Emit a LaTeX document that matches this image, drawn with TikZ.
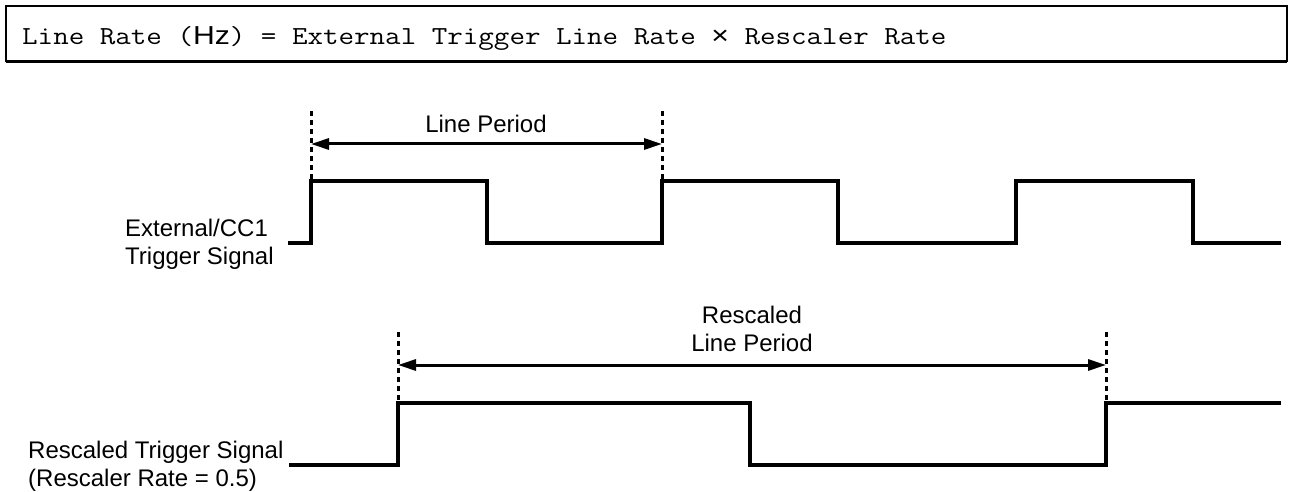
\documentclass[tikz,border=0pt]{standalone}
\usepackage{fontspec}
\usepackage{graphicx}
\setmainfont{Liberation Sans}
\usetikzlibrary{arrows.meta,positioning}

\begin{document}
\begin{tikzpicture}[x=1pt,y=-1pt,>={Triangle[length=18pt,width=11pt]},
  sig/.style={line width=3.2pt},
  guide/.style={line width=3pt,dash pattern=on 5pt off 4pt},
  period/.style={<->,line width=3pt},
  lbl/.style={font=\fontsize{24}{28}\selectfont,inner sep=0pt}]
  \useasboundingbox (0,0) rectangle (1290,492);
  \node[draw,line width=2.5pt,outer sep=0pt,anchor=north west,
        minimum width=1281pt,minimum height=55pt] (box) at (6,6) {};
  \draw[line width=1.5pt] ([yshift=-1.5pt]box.south west) -- ([yshift=-1.5pt]box.south east);
  \node[anchor=base west,inner sep=0pt,font=\ttfamily\fontsize{26}{30}\selectfont] (rate) at (22,45)
       {\scalebox{1.16}[1]{Line Rate ({\rmfamily Hz}) = External Trigger Line Rate {\rmfamily ×} Rescaler Rate}};
  \node[lbl,anchor=base west,align=left] (ext) at (125,264) {External/CC1\\Trigger Signal};
  \node[lbl,anchor=base west,align=left] (resc) at (28,486) {Rescaled Trigger Signal\\(Rescaler Rate = 0.5)};
  \node[lbl,anchor=base] (lp) at (486,132) {Line Period};
  \node[lbl,anchor=base,align=center] (rlp) at (752,351) {Rescaled\\Line Period};
  \draw[sig] (288,243) -| (311,181) -| (487,243) -| (662,181) -| (838,243)
    -| (1016,181) -| (1193,243) -- (1281,243);
  \draw[sig] (289,465) -| (398,403) -| (750,465) -| (1106,403) -- (1281,403);
  \draw[guide] (311,111) -- (311,181); \draw[guide] (662,111) -- (662,181);
  \draw[guide] (398,332) -- (398,403); \draw[guide] (1106,332) -- (1106,403);
  \coordinate (e1) at (311,144); \coordinate (e2) at (662,144);
  \coordinate (r1) at (398,365); \coordinate (r2) at (1106,365);
  \draw[period] (e1) -- (e2); \draw[period] (r1) -- (r2);
\end{tikzpicture}
\end{document}
